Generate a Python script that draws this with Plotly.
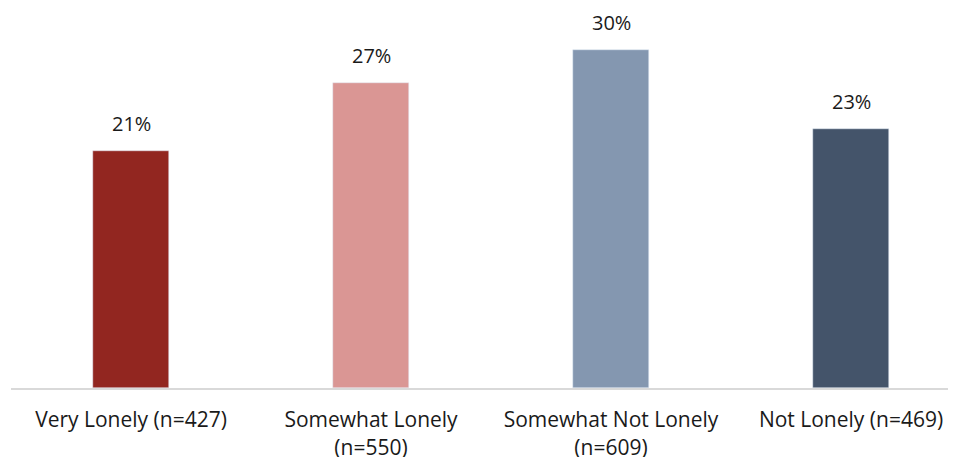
import plotly.graph_objects as go

categories = ["Very Lonely (n=427)", "Somewhat Lonely<br>(n=550)", "Somewhat Not Lonely<br>(n=609)", "Not Lonely (n=469)"]
values = [21, 27, 30, 23]
labels = ["21%", "27%", "30%", "23%"]
colors = ["#922620", "#DA9694", "#8497B0", "#44546A"]

FONT = "Open Sans"
fig = go.Figure(go.Bar(
    x=categories, y=values, marker_color=colors, width=0.317,
))
for c, v, t in zip(categories, values, labels):
    fig.add_annotation(x=c, y=v, text=t, showarrow=False, yanchor="bottom", yshift=12,
                       font=dict(size=20, color="#1a1a1a", family=FONT))
fig.update_layout(
    width=956, height=457, plot_bgcolor="white", paper_bgcolor="white",
    margin=dict(l=3, r=14, t=0, b=77), showlegend=False,
    font=dict(family=FONT, size=21, color="#1a1a1a"),
    bargap=0,
)
fig.update_xaxes(type="category", range=[-0.5, 3.4125], showline=True, linecolor="#D9D9D9",
                 linewidth=2, ticks="", ticklabelstandoff=12, tickfont=dict(size=21))
fig.update_yaxes(range=[0, 33.69], showgrid=False, showticklabels=False, zeroline=False)
fig.write_html("out.html")
